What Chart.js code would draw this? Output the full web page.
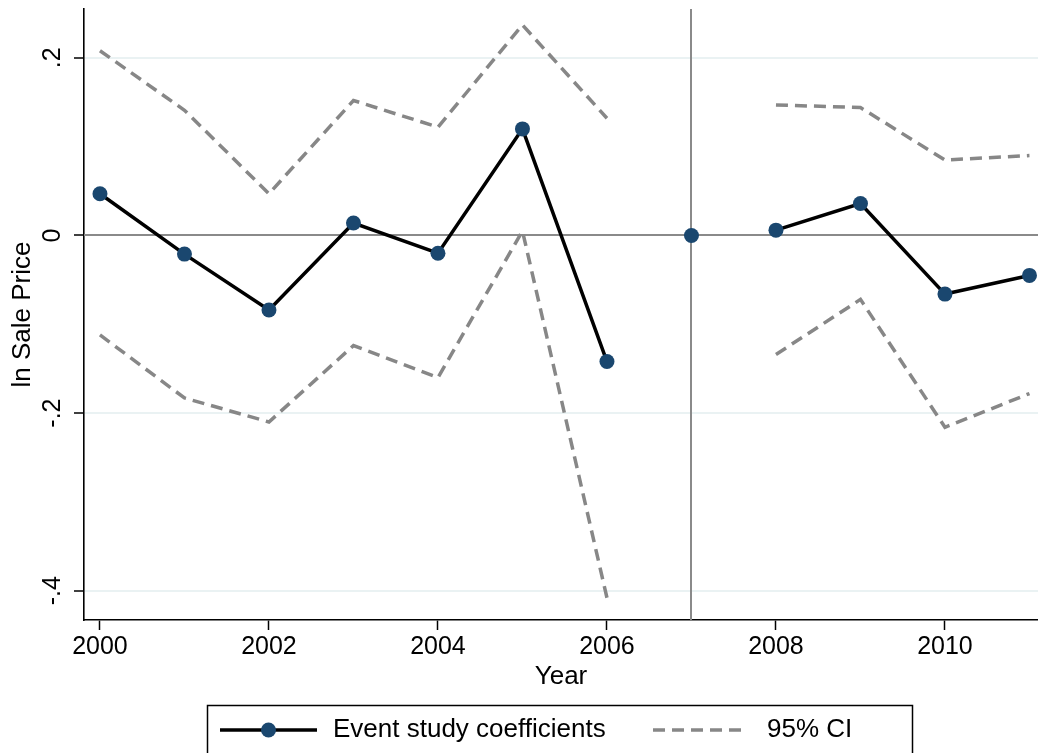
<!DOCTYPE html>
<html>
<head>
<meta charset="utf-8">
<title>Event study: ln Sale Price</title>
<script src="https://cdn.jsdelivr.net/npm/chart.js@4/dist/chart.umd.min.js"></script>
<style>
  html, body { margin: 0; padding: 0; background: #ffffff; }
  #wrap { width: 1038px; height: 753px; }
</style>
</head>
<body>
<div id="wrap"><canvas id="chart" width="1038" height="753"></canvas></div>
<script>
// Event study estimates by year (2007 is the omitted reference year)
const YEARS     = [2000, 2001, 2002, 2003, 2004, 2005, 2006, 2007, 2008, 2009, 2010, 2011];
const COEF      = [0.047, -0.021, -0.084, 0.014, -0.020, 0.120, -0.142, 0.000, 0.006, 0.036, -0.066, -0.045];
const CI_UPPER  = [0.208, 0.141, 0.047, 0.152, 0.122, 0.237, 0.132, null, 0.147, 0.144, 0.085, 0.090];
const CI_LOWER  = [-0.112, -0.183, -0.210, -0.124, -0.160, 0.005, -0.408, null, -0.134, -0.072, -0.216, -0.178];

const BASE_YEAR = 2007;
const ZERO_LEVEL = 0;

const X_TICKS = [2000, 2002, 2004, 2006, 2008, 2010];
const Y_TICKS = [-0.4, -0.2, 0, 0.2];
const Y_TICK_LABELS = ['-.4', '-.2', '0', '.2'];

const SERIES_LABEL = 'Event study coefficients';
const CI_LABEL = '95% CI';
const X_TITLE = 'Year';
const Y_TITLE = 'ln Sale Price';

const FONT = '"Liberation Sans", Arial, Helvetica, sans-serif';
const NAVY = '#1a476f';
const CI_GRAY = '#878787';
const REF_GRAY = '#8a8a8a';
const GRID = '#eaf2f3';

const toPoints = (vals) => YEARS.map((x, i) => ({ x, y: vals[i] }));

// Reference lines: horizontal at zero and vertical at the base year
const refLines = {
  id: 'refLines',
  beforeDatasetsDraw(chart) {
    const { ctx, chartArea: a, scales: { x, y } } = chart;
    ctx.save();
    ctx.strokeStyle = REF_GRAY;
    ctx.lineWidth = 2;
    const y0 = Math.round(y.getPixelForValue(ZERO_LEVEL));
    ctx.beginPath(); ctx.moveTo(a.left, y0); ctx.lineTo(a.right, y0); ctx.stroke();
    const xb = Math.round(x.getPixelForValue(BASE_YEAR));
    ctx.beginPath(); ctx.moveTo(xb, a.top); ctx.lineTo(xb, a.bottom); ctx.stroke();
    ctx.restore();
  }
};

// Boxed legend below the plot: line-with-marker key and dashed key
const boxLegend = {
  id: 'boxLegend',
  afterDraw(chart, args, o) {
    const ctx = chart.ctx;
    const coef = chart.data.datasets[0];
    const ci = chart.data.datasets[1];
    ctx.save();
    ctx.strokeStyle = '#000';
    ctx.lineWidth = 1.5;
    ctx.strokeRect(o.left + 0.5, o.top + 0.5, o.right - o.left, o.bottom - o.top);

    const cy = o.midY;
    // coefficient key
    ctx.strokeStyle = coef.borderColor;
    ctx.lineWidth = coef.borderWidth;
    ctx.beginPath(); ctx.moveTo(o.key1[0], cy); ctx.lineTo(o.key1[1], cy); ctx.stroke();
    ctx.fillStyle = coef.pointBackgroundColor;
    ctx.beginPath(); ctx.arc((o.key1[0] + o.key1[1]) / 2, cy, coef.pointRadius, 0, Math.PI * 2); ctx.fill();
    // CI key
    ctx.strokeStyle = ci.borderColor;
    ctx.lineWidth = ci.borderWidth;
    ctx.setLineDash(ci.borderDash);
    ctx.beginPath(); ctx.moveTo(o.key2[0], cy); ctx.lineTo(o.key2[1], cy); ctx.stroke();
    ctx.setLineDash([]);

    ctx.fillStyle = '#000';
    ctx.font = '26px ' + FONT;
    ctx.textBaseline = 'middle';
    ctx.textAlign = 'left';
    ctx.fillText(coef.label, o.text1, cy);
    ctx.fillText(ci.label, o.text2, cy);
    ctx.restore();
  }
};

const touchesBase = (ctx) =>
  ctx.p0.parsed.x === BASE_YEAR || ctx.p1.parsed.x === BASE_YEAR;

// Scales fill the full plot box: no extra room reserved for edge labels
const noEdgePadding = (s) => {
  s.paddingTop = 0; s.paddingBottom = 0; s.paddingLeft = 0; s.paddingRight = 0;
};

new Chart(document.getElementById('chart'), {
  type: 'scatter',
  data: {
    datasets: [
      {
        label: SERIES_LABEL,
        data: toPoints(COEF),
        showLine: true,
        borderColor: '#000000',
        borderWidth: 3.5,
        pointRadius: 7.5,
        pointBackgroundColor: NAVY,
        pointBorderColor: NAVY,
        pointBorderWidth: 0,
        segment: { borderColor: (c) => touchesBase(c) ? 'rgba(0,0,0,0)' : undefined },
        order: 0
      },
      {
        label: CI_LABEL,
        data: toPoints(CI_UPPER),
        showLine: true,
        spanGaps: false,
        borderColor: CI_GRAY,
        borderWidth: 3.5,
        borderDash: [12, 7],
        pointRadius: 0,
        order: 1
      },
      {
        label: CI_LABEL,
        data: toPoints(CI_LOWER),
        showLine: true,
        spanGaps: false,
        borderColor: CI_GRAY,
        borderWidth: 3.5,
        borderDash: [12, 7],
        pointRadius: 0,
        order: 1
      }
    ]
  },
  options: {
    responsive: false,
    animation: false,
    events: [],
    layout: { autoPadding: false, padding: { top: 9, left: 0, right: 0, bottom: 61 } },
    plugins: {
      legend: { display: false },
      tooltip: { enabled: false },
      boxLegend: {
        left: 207, right: 912, top: 705, bottom: 770, midY: 730,
        key1: [220, 317], text1: 333,
        key2: [653, 748], text2: 767
      }
    },
    scales: {
      x: {
        type: 'linear',
        min: 1999.811,
        max: 2011.101,
        afterBuildTicks: (s) => { s.ticks = X_TICKS.map(v => ({ value: v })); },
        afterFit: (s) => { s.height = 72; noEdgePadding(s); },
        grid: {
          display: true,
          drawOnChartArea: false,
          drawTicks: true,
          tickLength: 10,
          tickColor: '#000',
          tickWidth: 1.5
        },
        border: { display: true, color: '#000', width: 1.6 },
        ticks: {
          autoSkip: false,
          maxRotation: 0,
          minRotation: 0,
          padding: 2,
          color: '#000',
          font: { family: FONT, size: 25 },
          callback: (v) => String(v)
        },
        title: {
          display: true,
          text: X_TITLE,
          color: '#000',
          font: { family: FONT, size: 26 },
          padding: { top: 0, bottom: 0 }
        }
      },
      y: {
        type: 'linear',
        min: -0.433,
        max: 0.255,
        afterBuildTicks: (s) => { s.ticks = Y_TICKS.map(v => ({ value: v })); },
        afterFit: (s) => { s.width = 84; noEdgePadding(s); },
        grid: {
          display: true,
          drawOnChartArea: true,
          drawTicks: true,
          tickLength: 10,
          color: GRID,
          lineWidth: 2,
          tickColor: '#000',
          tickWidth: 1.5
        },
        border: { display: true, color: '#000', width: 1.6 },
        ticks: {
          autoSkip: false,
          minRotation: 90,
          maxRotation: 90,
          crossAlign: 'center',
          padding: 6,
          color: '#000',
          font: { family: FONT, size: 25 },
          callback: (v) => {
            const i = Y_TICKS.findIndex(t => Math.abs(t - v) < 1e-9);
            return i >= 0 ? Y_TICK_LABELS[i] : '';
          }
        },
        title: {
          display: true,
          text: Y_TITLE,
          color: '#000',
          font: { family: FONT, size: 26 },
          padding: { top: 7, bottom: 0 }
        }
      }
    }
  },
  plugins: [refLines, boxLegend]
});
</script>
</body>
</html>
